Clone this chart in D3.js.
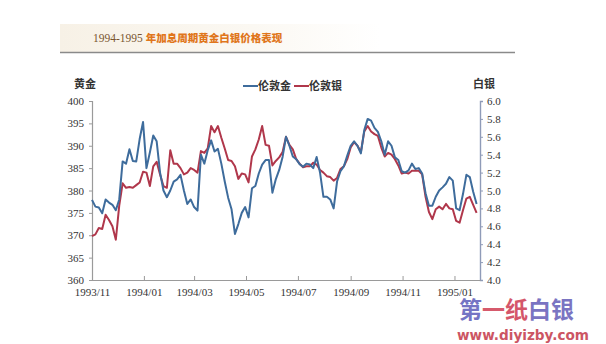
<!DOCTYPE html>
<html><head><meta charset="utf-8">
<script src="https://cdn.jsdelivr.net/npm/d3@7"></script>
<style>html,body{margin:0;padding:0;background:#fff;}svg{display:block;}</style>
</head><body>
<svg id="c" width="606" height="344"></svg>
<script>
const dates = ["1993-11-01","1993-11-05","1993-11-09","1993-11-13","1993-11-17","1993-11-21","1993-11-25","1993-11-29","1993-12-03","1993-12-07",
"1993-12-11","1993-12-15","1993-12-19","1993-12-23","1993-12-27","1993-12-31","1994-01-04","1994-01-08","1994-01-12","1994-01-16",
"1994-01-20","1994-01-24","1994-01-28","1994-02-01","1994-02-05","1994-02-09","1994-02-13","1994-02-17","1994-02-21","1994-02-25",
"1994-03-01","1994-03-05","1994-03-09","1994-03-13","1994-03-17","1994-03-21","1994-03-25","1994-03-29","1994-04-02","1994-04-06",
"1994-04-10","1994-04-14","1994-04-18","1994-04-22","1994-04-26","1994-04-30","1994-05-04","1994-05-08","1994-05-12","1994-05-16",
"1994-05-20","1994-05-24","1994-05-28","1994-06-01","1994-06-05","1994-06-09","1994-06-13","1994-06-17","1994-06-21","1994-06-25",
"1994-06-29","1994-07-03","1994-07-07","1994-07-11","1994-07-15","1994-07-19","1994-07-23","1994-07-27","1994-07-31","1994-08-04",
"1994-08-08","1994-08-12","1994-08-16","1994-08-20","1994-08-24","1994-08-28","1994-09-01","1994-09-05","1994-09-09","1994-09-13",
"1994-09-17","1994-09-21","1994-09-25","1994-09-29","1994-10-03","1994-10-07","1994-10-11","1994-10-15","1994-10-19","1994-10-23",
"1994-10-27","1994-10-31","1994-11-04","1994-11-08","1994-11-12","1994-11-16","1994-11-20","1994-11-24","1994-11-28","1994-12-02",
"1994-12-06","1994-12-10","1994-12-14","1994-12-18","1994-12-22","1994-12-26","1994-12-30","1995-01-03","1995-01-07","1995-01-11",
"1995-01-15","1995-01-19","1995-01-23","1995-01-27"];

const gold = [377.9,376.4,376.2,374.9,378.0,377.3,376.8,375.6,378.0,386.5,
386.0,389.2,386.6,386.5,391.5,395.3,385.0,388.5,392.3,391.0,
384.0,380.0,378.5,380.0,382.0,382.5,383.5,380.0,377.0,378.0,
376.3,375.5,388.0,386.0,389.0,391.2,388.7,389.3,386.0,382.0,
378.4,375.8,370.3,372.5,375.0,376.3,374.0,380.5,381.0,383.8,
385.8,386.8,386.8,379.5,382.5,384.6,387.5,392.0,390.0,387.6,
387.0,385.9,385.3,386.0,385.8,385.0,387.5,384.0,378.6,378.6,
378.0,376.0,382.0,384.3,385.4,387.8,390.0,391.0,390.0,388.3,
393.5,396.0,395.6,394.0,393.1,391.0,388.0,391.0,390.0,387.4,
386.8,384.3,384.0,384.5,386.0,384.8,385.0,383.8,379.4,376.6,
376.6,378.6,380.0,380.7,381.5,383.0,382.2,376.0,375.6,379.2,
383.5,383.0,379.7,377.0];

const silver = [4.49,4.51,4.58,4.57,4.73,4.67,4.60,4.45,4.83,5.08,
5.03,5.04,5.03,5.06,5.09,5.21,5.20,5.05,5.27,5.32,
5.18,5.05,5.03,5.45,5.30,5.30,5.25,5.18,5.20,5.25,
5.23,5.20,5.44,5.42,5.47,5.72,5.65,5.72,5.59,5.47,
5.34,5.33,5.27,5.13,5.19,5.18,5.09,5.38,5.46,5.57,
5.72,5.51,5.50,5.28,5.33,5.37,5.43,5.60,5.51,5.46,
5.35,5.30,5.26,5.27,5.27,5.31,5.29,5.23,5.20,5.16,
5.15,5.11,5.14,5.24,5.27,5.35,5.48,5.54,5.50,5.43,
5.66,5.72,5.66,5.63,5.61,5.48,5.38,5.42,5.40,5.35,
5.28,5.19,5.20,5.19,5.22,5.22,5.22,5.18,4.93,4.76,
4.68,4.79,4.82,4.79,4.85,4.80,4.79,4.66,4.64,4.78,
4.91,4.93,4.84,4.75];

const goldTicks = [360,365,370,375,380,385,390,395,400];
const silverTicks = [4.0,4.2,4.4,4.6,4.8,5.0,5.2,5.4,5.6,5.8,6.0];
const monthTicks = ["1993-11-01","1994-01-01","1994-03-01","1994-05-01","1994-07-01","1994-09-01","1994-11-01","1995-01-01"];
const seriesNames = ["伦敦金","伦敦银"];
const titleNum = "1994-1995";
const titleText = "年加息周期黄金白银价格表现";

const svg = d3.select("#c");
const parse = d3.timeParse("%Y-%m-%d");
const L = 92, R = 480, T = 101, B = 280;

const x = d3.scaleTime().domain([parse("1993-11-01"), parse("1995-01-31")]).range([L, R]);
const yG = d3.scaleLinear().domain([360, 400]).range([B, T]);
const yS = d3.scaleLinear().domain([4.0, 6.0]).range([B, T]);

// title area
const defs = svg.append("defs");
const grad = defs.append("linearGradient").attr("id","tg").attr("x1","0").attr("x2","1");
grad.append("stop").attr("offset","0").attr("stop-color","#f7f1e6");
grad.append("stop").attr("offset","0.6").attr("stop-color","#fbf8f2");
grad.append("stop").attr("offset","1").attr("stop-color","#ffffff");
svg.append("rect").attr("x",60).attr("y",24).attr("width",320).attr("height",28).attr("fill","url(#tg)");
svg.append("line").attr("x1",60).attr("x2",515).attr("y1",52.5).attr("y2",52.5)
  .attr("stroke","#8a8a8a").attr("stroke-width",1.6);
const tt = svg.append("text").attr("x",93).attr("y",41.5);
tt.append("tspan").text(titleNum+" ").attr("font-family","Liberation Serif").attr("font-size",11.5).attr("fill","#7a5630");
tt.append("tspan").text(titleText).attr("font-family","Noto Sans CJK SC").attr("font-weight","900").attr("font-size",10.5).attr("fill","#e0761c");

// axes
const axStyle = g => {
  g.selectAll("text").attr("font-family","Liberation Serif").attr("font-size",11).attr("fill","#333");
};
const gL = svg.append("g").attr("transform",`translate(${L},0)`)
  .call(d3.axisLeft(yG).tickValues(goldTicks).tickSize(3).tickPadding(5).tickFormat(d3.format("d")));
gL.select(".domain").attr("stroke","#9a9a9a").attr("stroke-width",1.2);
gL.selectAll(".tick line").attr("stroke","#9a9a9a");
axStyle(gL);

const gR = svg.append("g").attr("transform",`translate(${R},0)`)
  .call(d3.axisRight(yS).tickValues(silverTicks).tickSize(3).tickPadding(4).tickFormat(d3.format(".1f")));
gR.select(".domain").attr("stroke","#8f9bb8").attr("stroke-width",1.4);
gR.selectAll(".tick line").attr("stroke","#8f9bb8");
axStyle(gR);

const gB = svg.append("g").attr("transform",`translate(0,${B})`)
  .call(d3.axisBottom(x).tickValues(monthTicks.map(parse)).tickSizeInner(-4).tickSizeOuter(0).tickPadding(9).tickFormat(d3.timeFormat("%Y/%m")));
gB.select(".domain").attr("stroke","#9a9a9a").attr("stroke-width",1.2);
gB.selectAll(".tick line").attr("stroke","#9a9a9a");
axStyle(gB);
gB.selectAll("text").attr("dy","0.71em").attr("y",8.5);

// axis titles
svg.append("text").attr("x",85).attr("y",88).attr("text-anchor","middle").text("黄金")
  .attr("font-family","Noto Sans CJK SC").attr("font-weight","bold").attr("font-size",11).attr("fill","#333");
svg.append("text").attr("x",484).attr("y",88).attr("text-anchor","middle").text("白银")
  .attr("font-family","Noto Sans CJK SC").attr("font-weight","bold").attr("font-size",11).attr("fill","#333");

// lines
const colors = ["#3e6c9c","#b0374b"];
const pts = dates.map((d,i)=>({d:parse(d), g:gold[i], s:silver[i]}));
const lineS = d3.line().x(p=>x(p.d)).y(p=>yS(p.s));
const lineG = d3.line().x(p=>x(p.d)).y(p=>yG(p.g));
svg.append("path").datum(pts).attr("d",lineS).attr("fill","none").attr("stroke",colors[1]).attr("stroke-width",2).attr("stroke-linejoin","round");
svg.append("path").datum(pts).attr("d",lineG).attr("fill","none").attr("stroke",colors[0]).attr("stroke-width",2).attr("stroke-linejoin","round");

// legend
const leg = [{x:243,name:seriesNames[0],c:colors[0]},{x:294,name:seriesNames[1],c:colors[1]}];
leg.forEach(l=>{
  svg.append("line").attr("x1",l.x).attr("x2",l.x+15).attr("y1",86).attr("y2",86).attr("stroke",l.c).attr("stroke-width",2);
  svg.append("text").attr("x",l.x+15).attr("y",90).text(l.name)
    .attr("font-family","Noto Sans CJK SC").attr("font-weight","bold").attr("font-size",11).attr("fill","#333");
});

// watermark
const wm = svg.append("text").attr("x",459).attr("y",318).attr("font-family","Noto Sans CJK SC").attr("font-weight","bold").attr("font-size",23);
[["第","#7474c4"],["一","#d65a6c"],["纸","#d4566a"],["白","#7a74c2"],["银","#7a74c2"]].forEach(([t,c])=>wm.append("tspan").text(t).attr("fill",c));
svg.append("text").attr("x",457).attr("y",340).text("www.diyizby.com").attr("font-family","DejaVu Sans").attr("font-weight","bold")
  .attr("font-size",13.5).attr("fill","#cc5563").attr("textLength",132).attr("lengthAdjust","spacingAndGlyphs");
</script>
</body></html>
